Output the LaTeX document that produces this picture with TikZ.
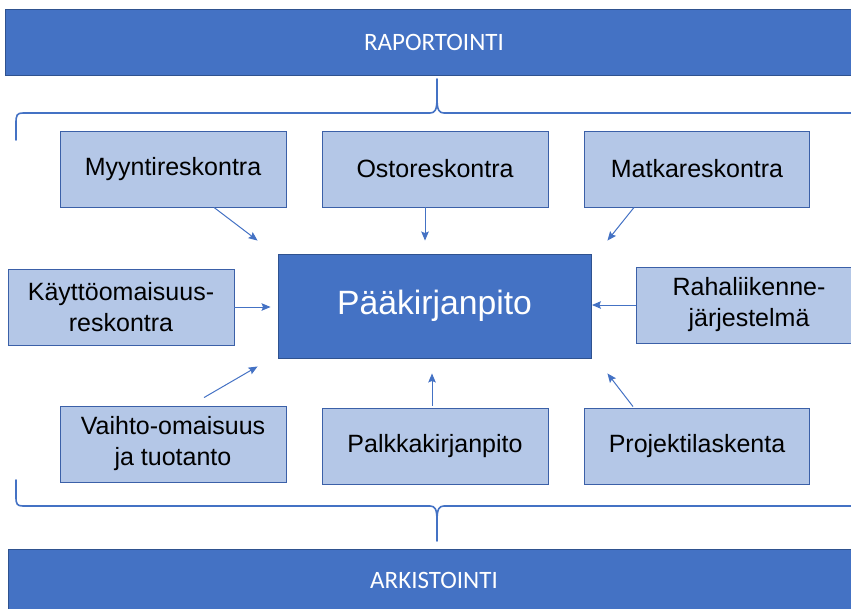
\documentclass[tikz,border=0pt]{standalone}
\usepackage{fontspec}
\setmainfont{Liberation Sans}
\newfontfamily\bannerfont{Carlito}
\usetikzlibrary{arrows.meta,calc}
\definecolor{dblue}{RGB}{68,114,196}
\definecolor{lblue}{RGB}{180,199,231}
\definecolor{edge}{RGB}{59,96,168}
\definecolor{dedge}{RGB}{47,82,143}
\tikzset{
  banner/.style={rectangle, fill=dblue, draw=dedge, line width=0.8pt, text=white,
    font=\bannerfont\fontsize{25}{29}\selectfont, inner sep=0pt},
  lbox/.style={rectangle, fill=lblue, draw=edge, line width=0.9pt, text=black,
    minimum width=226pt, minimum height=76pt, inner sep=0pt, align=center,
    font=\fontsize{25}{31}\selectfont},
  mainbox/.style={rectangle, fill=dblue, draw=dedge, line width=0.9pt, text=white,
    minimum width=313pt, minimum height=104pt, inner sep=0pt,
    font=\fontsize{33.7}{38}\selectfont},
  arr/.style={draw=dblue, line width=1pt, -{Stealth[length=9pt,width=7.5pt,inset=1.5pt]}},
  brace/.style={draw=dblue, line width=1.6pt, line cap=round}
}
\begin{document}
\begin{tikzpicture}[x=1pt,y=-1pt]
\useasboundingbox (0,0) rectangle (851,608);
\begin{scope}
\clip (0,0) rectangle (851,608);
% banners
\node[banner, minimum width=858pt, minimum height=66pt] (rap) at (434,42) {RAPORTOINTI};
\node[banner, minimum width=852pt, minimum height=62pt] (ark) at (434,580) {ARKISTOINTI};
% braces
\draw[brace] (16,140) -- (16,123) .. controls (16,115) and (17,113) .. (23,113)
  -- (430,113) .. controls (435,113) and (437,110) .. (437,98) -- (437,79);
\draw[brace] (437,98) .. controls (437,110) and (439,113) .. (444,113) -- (870,113);
\draw[brace] (16,480) -- (16,497) .. controls (16,504) and (17,506) .. (23,506)
  -- (430,506) .. controls (435,506) and (437,509) .. (437,521) -- (437,541);
\draw[brace] (437,521) .. controls (437,509) and (439,506) .. (444,506) -- (870,506);
% boxes
\node[lbox] (myynti) at (173,169) {Myyntireskontra};
\node[lbox] (osto) at (435,169) {Ostoreskontra};
\node[lbox, minimum width=225pt] (matka) at (697,169) {Matkareskontra};
\node[lbox] (kaytto) at (121,307) {Käyttöomaisuus-\\reskontra};
\node[mainbox] (paa) at (434.5,306) {Pääkirjanpito};
\node[lbox] (raha) at (749,305) {Rahaliikenne-\\järjestelmä};
\node[lbox] (vaihto) at (173,444) {Vaihto-omaisuus\\ja tuotanto};
\node[lbox] (palkka) at (435,446) {Palkkakirjanpito};
\node[lbox, minimum width=225pt] (projekti) at (697,446) {Projektilaskenta};
\end{scope}
% arrows
\draw[arr] ($(myynti.south)+(41,0)$) -- ($(paa.north west)+(-20,-13)$);
\draw[arr] ($(osto.south)+(-10,0)$) -- ($(paa.north)+(-9.5,-13)$);
\draw[arr] ($(matka.south)+(-63,0)$) -- ($(paa.north east)+(16,-13)$);
\draw[arr, shorten >=7pt] (kaytto.east) -- (kaytto.east -| paa.west);
\draw[arr, shorten >=0.5pt] (raha.west) -- (raha.west -| paa.east);
\draw[arr] ($(vaihto.north)+(31,-8)$) -- ($(paa.south west)+(-20,8)$);
\draw[arr] ($(palkka.north)+(-3,-2)$) -- ($(paa.south)+(-2.5,15)$);
\draw[arr] ($(projekti.north)+(-64,-1)$) -- ($(paa.south east)+(16,15)$);
\end{tikzpicture}
\end{document}
